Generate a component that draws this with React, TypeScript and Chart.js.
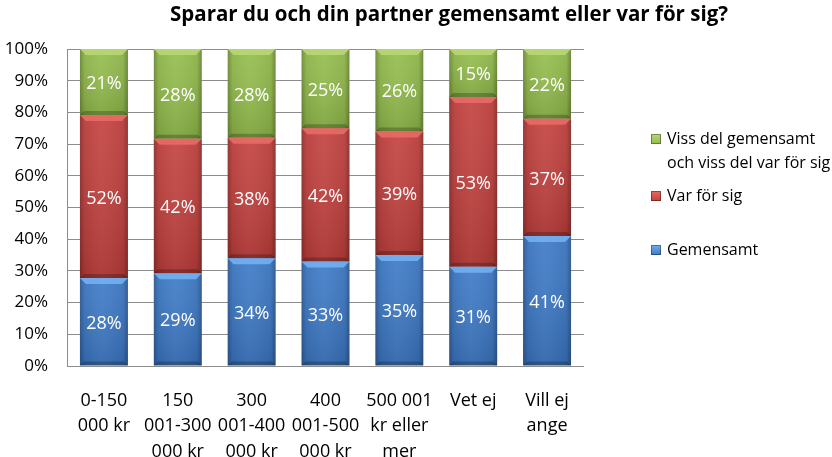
import React, { useEffect, useRef } from "react";
import { Chart, registerables } from "chart.js";

Chart.register(...registerables);

const titleText = "Sparar du och din partner gemensamt eller var för sig?";
const categories: string[][] = [
  ["0-150", "000 kr"],
  ["150", "001-300", "000 kr"],
  ["300", "001-400", "000 kr"],
  ["400", "001-500", "000 kr"],
  ["500 001", "kr eller", "mer"],
  ["Vet ej"],
  ["Vill ej", "ange"],
];
const seriesNames = ["Gemensamt", "Var för sig", "Viss del gemensamt och viss del var för sig"];
const legendLines: string[][] = [
  ["Viss del gemensamt", "och viss del var för sig"],
  ["Var för sig"],
  ["Gemensamt"],
];
const gemensamt = [28, 29, 34, 33, 35, 31, 41];
const varForSig = [52, 42, 38, 42, 39, 53, 37];
const vissDel = [21, 28, 28, 25, 26, 15, 22];
const yTicks = [0, 10, 20, 30, 40, 50, 60, 70, 80, 90, 100];

const raw = [gemensamt, varForSig, vissDel];
const totals = categories.map((_, i) => raw.reduce((s, arr) => s + arr[i], 0));
const shares = raw.map((arr) => arr.map((v, i) => (v / totals[i]) * 100));

const baseColors = ["#3b78c6", "#c23f3c", "#93bd4b"];
const lightColors = ["#72b0f2", "#e86a66", "#b7d874"];
const FONT = "'Open Sans', 'Noto Sans', sans-serif";

const barStylePlugin = {
  id: "barStyle",
  afterDatasetsDraw(chart: any) {
    const ctx = chart.ctx;
    chart.data.datasets.forEach((ds: any, di: number) => {
      const meta = chart.getDatasetMeta(di);
      meta.data.forEach((bar: any) => {
        const { x, y, base, width } = bar.getProps(["x", "y", "base", "width"], true);
        const l = x - width / 2;
        const r = x + width / 2;
        const top = Math.min(y, base);
        const bot = Math.max(y, base);
        ctx.save();
        ctx.beginPath();
        ctx.rect(l, top, width, bot - top);
        ctx.clip();
        const g = ctx.createLinearGradient(l, 0, r, 0);
        g.addColorStop(0, "rgba(0,0,0,0.28)");
        g.addColorStop(0.1, "rgba(0,0,0,0.06)");
        g.addColorStop(0.45, "rgba(255,255,255,0.04)");
        g.addColorStop(0.9, "rgba(0,0,0,0.06)");
        g.addColorStop(1, "rgba(0,0,0,0.3)");
        ctx.fillStyle = g;
        ctx.fillRect(l, top, width, bot - top);
        const gv = ctx.createLinearGradient(0, top, 0, bot);
        gv.addColorStop(0, "rgba(255,255,255,0.06)");
        gv.addColorStop(1, "rgba(0,0,0,0.12)");
        ctx.fillStyle = gv;
        ctx.fillRect(l, top, width, bot - top);
        const bh = 6;
        ctx.beginPath();
        ctx.moveTo(l, top);
        ctx.lineTo(r, top);
        ctx.lineTo(r - bh, top + bh);
        ctx.lineTo(l + bh, top + bh);
        ctx.closePath();
        ctx.fillStyle = lightColors[di];
        ctx.globalAlpha = 0.9;
        ctx.fill();
        ctx.beginPath();
        ctx.moveTo(l, bot);
        ctx.lineTo(r, bot);
        ctx.lineTo(r - 4, bot - 4);
        ctx.lineTo(l + 4, bot - 4);
        ctx.closePath();
        ctx.fillStyle = "rgba(0,0,0,0.22)";
        ctx.globalAlpha = 1;
        ctx.fill();
        ctx.restore();
      });
    });
    ctx.save();
    ctx.font = `18px ${FONT}`;
    ctx.fillStyle = "#ffffff";
    ctx.textAlign = "center";
    ctx.textBaseline = "middle";
    chart.data.datasets.forEach((ds: any, di: number) => {
      const meta = chart.getDatasetMeta(di);
      meta.data.forEach((bar: any, i: number) => {
        const { x, y, base } = bar.getProps(["x", "y", "base"], true);
        ctx.fillText(`${raw[di][i]}%`, x, (y + base) / 2 + 2);
      });
    });
    ctx.restore();
  },
};

const titleLegendPlugin = {
  id: "titleLegend",
  afterDraw(chart: any) {
    const ctx = chart.ctx;
    const area = chart.chartArea;
    ctx.save();
    ctx.font = `bold 20.5px ${FONT}`;
    ctx.fillStyle = "#000";
    ctx.textAlign = "center";
    ctx.textBaseline = "middle";
    ctx.fillText(titleText, 449, 15);
    ctx.font = `16px ${FONT}`;
    ctx.textAlign = "left";
    const sx = area.right + 67;
    const tx = sx + 16;
    const itemY = [area.top + 90, area.top + 147, area.top + 201];
    const order = [2, 1, 0];
    order.forEach((di, k) => {
      const yy = itemY[k];
      const gsq = ctx.createLinearGradient(0, yy - 5, 0, yy + 5);
      gsq.addColorStop(0, lightColors[di]);
      gsq.addColorStop(1, baseColors[di]);
      ctx.fillStyle = gsq;
      ctx.fillRect(sx, yy - 5, 10, 10);
      ctx.strokeStyle = "rgba(0,0,0,0.35)";
      ctx.lineWidth = 1;
      ctx.strokeRect(sx + 0.5, yy - 4.5, 9, 9);
      ctx.fillStyle = "#000";
      legendLines[k].forEach((line, li) => {
        ctx.fillText(line, tx, yy + li * 24);
      });
    });
    ctx.restore();
  },
};

export default function App() {
  const canvasRef = useRef<HTMLCanvasElement | null>(null);
  useEffect(() => {
    document.body.style.margin = "0";
    const canvas = canvasRef.current!;
    const chart = new Chart(canvas, {
      type: "bar",
      data: {
        labels: categories as any,
        datasets: shares.map((arr, di) => ({
          label: seriesNames[di],
          data: arr,
          backgroundColor: baseColors[di],
          borderWidth: 0,
          barPercentage: 0.65,
          categoryPercentage: 1,
        })),
      },
      options: {
        animation: false,
        responsive: false,
        maintainAspectRatio: false,
        layout: { padding: { top: 49, right: 248, left: 3, bottom: 0 } },
        plugins: {
          legend: { display: false },
          title: { display: false },
          tooltip: { enabled: false },
        },
        scales: {
          x: {
            stacked: true,
            grid: { display: false },
            border: { display: false },
            afterFit: (axis: any) => {
              axis.height = 91;
            },
            ticks: {
              color: "#000",
              font: { family: FONT, size: 18, lineHeight: 1.42 },
              padding: 14,
              maxRotation: 0,
              autoSkip: false,
            },
          },
          y: {
            stacked: true,
            min: 0,
            max: 100,
            afterBuildTicks: (axis: any) => {
              axis.ticks = yTicks.map((v) => ({ value: v }));
            },
            afterFit: (axis: any) => {
              axis.width = 64;
            },
            grid: { color: "#8c8c8c", drawTicks: false, lineWidth: 1 },
            border: { display: true, color: "#8c8c8c" },
            ticks: {
              color: "#000",
              font: { family: FONT, size: 17 },
              padding: 19,
              callback: (v: any) => `${v}%`,
            },
          },
        },
      },
      plugins: [barStylePlugin, titleLegendPlugin],
    });
    return () => chart.destroy();
  }, []);
  return (
    <div style={{ width: 832, height: 457 }}>
      <canvas ref={canvasRef} width={832} height={457} style={{ width: 832, height: 457 }} />
    </div>
  );
}
